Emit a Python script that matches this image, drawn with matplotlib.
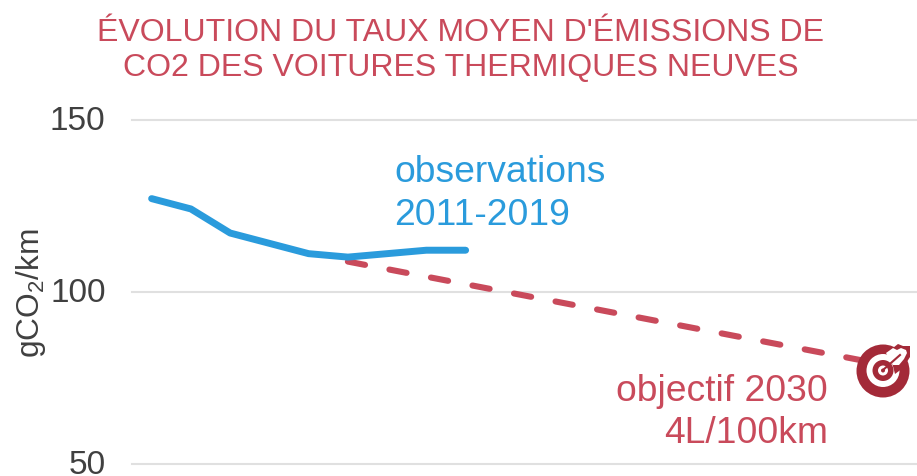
import matplotlib
matplotlib.use("Agg")
import matplotlib.pyplot as plt
from matplotlib.patches import Circle, Polygon
from matplotlib.transforms import ScaledTranslation

plt.rcParams['font.family'] = ['Liberation Sans', 'DejaVu Sans']
plt.rcParams['mathtext.fontset'] = 'custom'
plt.rcParams['mathtext.rm'] = 'Liberation Sans'
plt.rcParams['mathtext.default'] = 'regular'

obs_years = [2011, 2012, 2013, 2014, 2015, 2016, 2017, 2018, 2019]
obs_values = [127, 124, 117, 114, 111, 110, 111, 112, 112]
goal_years = [2016, 2030]
goal_values = [108.7, 78]
y_ticks = [50, 100, 150]

BLUE = "#2a9bdc"
RED = "#c94a5b"
DARK = "#a32a38"
GREY = "#404040"
W, H = 917, 477

fig = plt.figure(figsize=(W / 100, H / 100), dpi=100)
ax = fig.add_axes([132 / W, 1 - 464.5 / H, 785 / W, 344 / H])

ax.plot(goal_years, goal_values, color=RED, lw=4.4, dashes=(2.86, 4.06),
        dash_capstyle="round", clip_on=False, zorder=2)
ax.plot(obs_years, obs_values, color=BLUE, lw=5,
        solid_capstyle="round", solid_joinstyle="round", clip_on=False, zorder=3)

ax.set_xlim(2010.5, 2030.5)
ax.set_ylim(50, 150)
ax.set_yticks(y_ticks)
ax.set_xticks([])
ax.tick_params(axis="y", length=0, pad=19, labelsize=24, labelcolor=GREY)
lift = ScaledTranslation(0, 2 / 72, fig.dpi_scale_trans)
for lab in ax.get_yticklabels():
    lab.set_va("center_baseline")
    lab.set_transform(lab.get_transform() + lift)
ax.grid(axis="y", color="#e0e0e0", lw=1.5, clip_on=False)
ax.set_axisbelow(True)
for s in ax.spines.values():
    s.set_visible(False)

fig.text(31 / W, 1 - 293 / H, "gCO$_2$/km", rotation=90, ha="center", va="center",
         fontsize=22.8, color=GREY)

fig.text(461 / W, 1 - 50.5 / H, "ÉVOLUTION DU TAUX MOYEN D'ÉMISSIONS DE\nCO2 DES VOITURES THERMIQUES NEUVES",
         ha="center", va="center", fontsize=23, color=RED, linespacing=1.2)
fig.text(394 / W, 1 - 194 / H, "observations\n2011-2019", ha="left", va="center",
         fontsize=26.8, color=BLUE, linespacing=1.27)
fig.text(828 / W, 1 - 412.5 / H, "objectif 2030\n4L/100km", ha="right", va="center",
         fontsize=26.8, color=RED, linespacing=1.29)


# target icon, placed in pixel coordinates like a picture on the slide
def px(x, y):
    return (x / W, 1 - y / H)


def circle(x, y, r, c, z):
    fig.add_artist(Circle((x, H - y), r, color=c, lw=0, zorder=z, transform=None))


def poly(pts, c, z):
    fig.add_artist(Polygon([px(*p) for p in pts], closed=True, color=c, lw=0, zorder=z))


circle(883, 372, 26.5, DARK, 5)
circle(883, 371.5, 16.5, "white", 6)
circle(883, 371.5, 10.5, DARK, 7)
circle(883, 371.5, 5, "white", 8)
circle(883, 371.5, 2, DARK, 9)
poly([(889, 352), (898, 345), (903, 347), (910, 347), (910, 358), (903, 369), (895, 375)], DARK, 10)
poly([(886, 354), (893, 349), (897, 351), (901, 349), (906, 351), (907, 354), (904, 360), (899, 366), (893, 366)],
     "white", 11)
fig.add_artist(plt.Line2D([883 / W, 900 / W], [1 - 371 / H, 1 - 356 / H], color=DARK, lw=1.5, zorder=12))

fig.savefig("out.png", dpi=100)
